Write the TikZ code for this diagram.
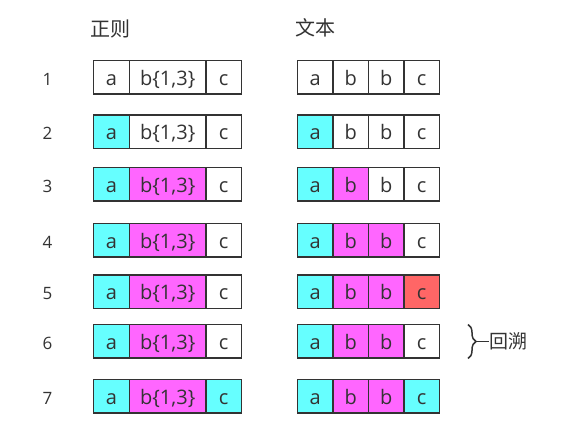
\documentclass[tikz,border=0pt]{standalone}
\usepackage{fontspec}
\setmainfont{Open Sans}
\newfontfamily\cjk{Noto Sans CJK SC}
\usetikzlibrary{decorations.pathreplacing}
\definecolor{ink}{HTML}{333333}
\definecolor{cy}{HTML}{66FFFF}
\definecolor{mg}{HTML}{FF66FF}
\definecolor{rd}{HTML}{FF6666}
\definecolor{w}{HTML}{FFFFFF}
\tikzset{
  cell/.style={draw=ink, line width=1.5pt, inner sep=0pt, minimum height=33.5pt,
    text height=16.5pt, text depth=0pt,
    text=ink, font=\fontsize{20}{20}\selectfont, anchor=center},
  lbl/.style={text=ink, font=\fontsize{17}{17}\selectfont, inner sep=0pt, anchor=base},
  head/.style={text=ink, font=\cjk\fontsize{20}{20}\selectfont, inner sep=0pt, anchor=base west}
}
\begin{document}
\begin{tikzpicture}[x=1pt,y=-1pt]
\useasboundingbox (0,0) rectangle (565,438);
\node[head] (hre) at (90.5,36.5) {正则};
\node[head] (htx) at (295,35.5) {文本};
\foreach \r/\y/\la/\lb/\lc/\ta/\tb/\tc/\td in {
  1/77.25/w/w/w/w/w/w/w,
  2/131.75/cy/w/w/cy/w/w/w,
  3/184.25/cy/mg/w/cy/mg/w/w,
  4/240.5/cy/mg/w/cy/mg/mg/w,
  5/291.75/cy/mg/w/cy/mg/mg/rd,
  6/341.25/cy/mg/w/cy/mg/mg/w,
  7/396.25/cy/mg/cy/cy/mg/mg/cy}{
  \node[lbl] (n\r) at (47.5,\y+7.8) {\r};
  \node[cell, fill=\la, minimum width=36pt] (L\r a) at (111.5,\y) {a};
  \node[cell, fill=\lb, minimum width=76.5pt] (L\r b) at (167.75,\y) {b\{1,3\}};
  \node[cell, fill=\lc, minimum width=35.5pt] (L\r c) at (223.75,\y) {c};
  \node[cell, fill=\ta, minimum width=35.5pt] (T\r a) at (315.25,\y) {a};
  \node[cell, fill=\tb, minimum width=35.5pt] (T\r b) at (350.75,\y) {b};
  \node[cell, fill=\tc, minimum width=35.5pt] (T\r c) at (386.25,\y) {b};
  \node[cell, fill=\td, minimum width=35.5pt] (T\r d) at (421.75,\y) {c};
}
\coordinate (bt) at (468,324.5);
\coordinate (bb) at (468,358.5);
\draw[ink, line width=1.5pt, decorate, decoration={brace, amplitude=8pt}] (bt) -- (bb);
\node[head, font=\cjk\fontsize{19}{19}\selectfont] (bs) at (489,348.5) {回溯};
\coordinate (btip) at (476,341.5);
\draw[ink, line width=1.5pt] (btip) -- (btip -| bs.west);
\end{tikzpicture}
\end{document}
